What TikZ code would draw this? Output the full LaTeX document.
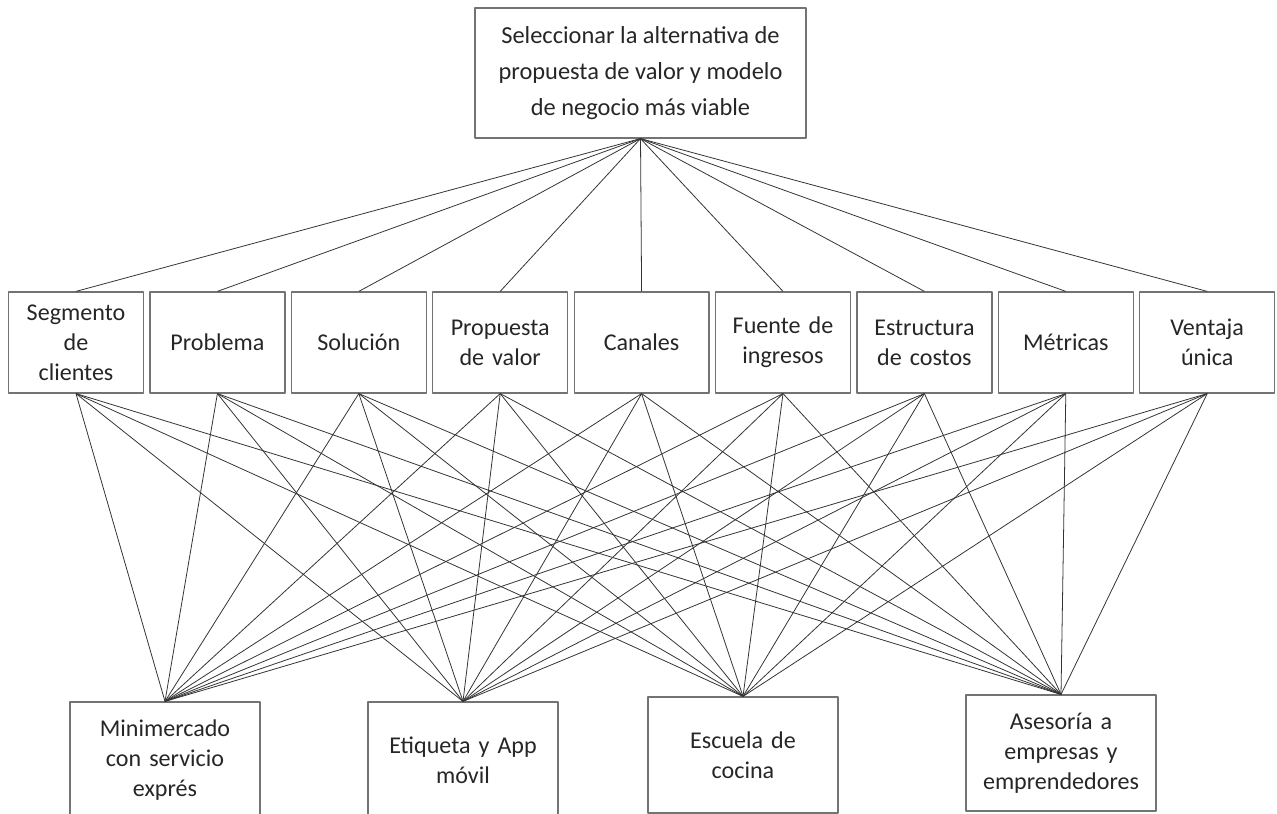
\documentclass[tikz,border=0pt]{standalone}
\usepackage{fontspec}
\setmainfont{Carlito}
\usepackage{tikz}
\usetikzlibrary{positioning}

\begin{document}
\begin{tikzpicture}[x=0.02cm, y=-0.02cm, line join=round,
  box/.style={draw=black!55, line width=0.7pt, rectangle, align=center,
    text=black!85, font=\fontsize{13.7}{17}\selectfont, inner sep=2pt},
  crit/.style={box, minimum width=2.7cm, minimum height=2.02cm, text width=2.5cm},
  alt/.style={box, minimum width=3.8cm, minimum height=2.32cm, text width=3.5cm},
  link/.style={draw=black!80, line width=0.45pt}]
\useasboundingbox (0,0) rectangle (1277,814);
% goal
\node[box, minimum width=6.62cm, minimum height=2.6cm,
  font=\fontsize{13.9}{20.5}\selectfont] (goal) at (640.5,73)
  {Seleccionar la alternativa de\\propuesta de valor y modelo\\de negocio más viable};
% criteria
\foreach \txt [count=\i] in {Segmento\\de\\clientes, Problema, Solución,
    Propuesta\\de valor, Canales, Fuente de\\ingresos,
    Estructura\\de costos, Métricas, Ventaja\\única}
  \node[crit] (c\i) at ({76+141.4*(\i-1)},342.5) {\txt};
% alternatives
\node[alt] (a1) at (165,760) {Minimercado\\con servicio\\exprés};
\node[alt] (a2) at (463,760) {Etiqueta y App\\móvil};
\node[alt] (a3) at (743,755) {Escuela de\\cocina};
\node[alt] (a4) at (1061,753) {Asesoría a\\empresas y\\emprendedores};
% links
\foreach \i in {1,...,9} {
  \draw[link] (goal.south) -- (c\i.north);
  \foreach \j in {1,...,4}
    \draw[link] (c\i.south) -- (a\j.north);
}
\end{tikzpicture}
\end{document}
